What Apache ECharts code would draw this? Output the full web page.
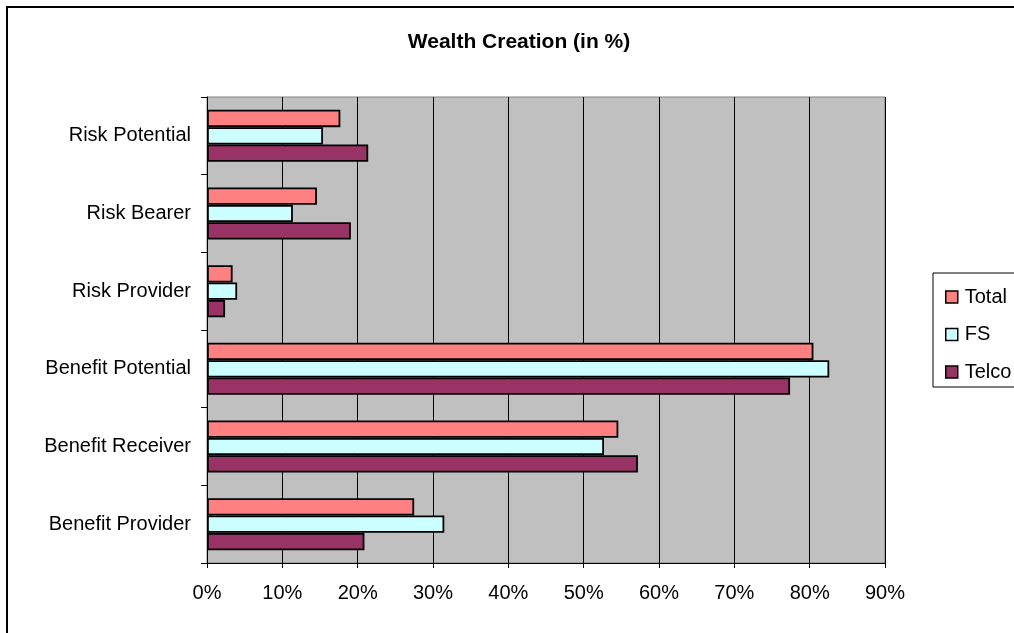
<!DOCTYPE html>
<html><head><meta charset="utf-8">
<script src="https://cdn.jsdelivr.net/npm/echarts@6/dist/echarts.min.js"></script>
<style>html,body{margin:0;padding:0;background:#fff}#c{width:1014px;height:633px}</style>
</head><body><div id="c"></div>
<script>
const categories = ["Benefit Provider","Benefit Receiver","Benefit Potential","Risk Provider","Risk Bearer","Risk Potential"];
const totalValues = [27.5, 54.6, 80.5, 3.4, 14.6, 17.7];
const fsValues = [31.5, 52.7, 82.6, 4.0, 11.4, 15.4];
const telcoValues = [20.9, 57.2, 77.4, 2.4, 19.1, 21.4];
const seriesNames = ["Total","FS","Telco"];
const colors = {"Total":"#FF8080","FS":"#CCFFFF","Telco":"#993366"};
const font = "Liberation Sans, Arial, sans-serif";

const chart = echarts.init(document.getElementById('c'));
const mk = (name, data) => ({
  name, type:'bar', data, barGap:'0%', barCategoryGap:'33%',
  itemStyle:{color:colors[name], borderColor:'#000', borderWidth:1.8},
  emphasis:{disabled:true}, animation:false
});
chart.setOption({
  animation:false,
  title:{text:'Wealth Creation (in %)', left:514, top:27, textAlign:'center',
    textStyle:{fontFamily:font, fontWeight:'bold', fontSize:21, color:'#000'}},
  graphic:[{type:'rect', shape:{x:7,y:7,width:1030,height:640},
    style:{fill:'none', stroke:'#000', lineWidth:2}, silent:true, z:-1},
    {type:'rect', shape:{x:933,y:273,width:100,height:114},
    style:{fill:'#fff', stroke:'#000', lineWidth:1}, silent:true, z:0}],
  legend:{orient:'vertical', left:940, top:282, itemGap:17.5, itemWidth:12, itemHeight:12,
    icon:'rect', data:seriesNames,
    textStyle:{fontFamily:font, fontSize:20, color:'#000', padding:[0,0,0,2]},
    itemStyle:{borderColor:'#000', borderWidth:1.5}},
  grid:{left:207, top:97, right:129, bottom:70, show:true, backgroundColor:'#C0C0C0', borderColor:'#808080', borderWidth:1},
  xAxis:{type:'value', min:0, max:90, interval:10,
    axisLabel:{formatter:'{value}%', fontFamily:font, fontSize:20, color:'#000', margin:20},
    axisLine:{show:true, lineStyle:{color:'#000', width:1}},
    axisTick:{show:true, length:5, lineStyle:{color:'#000'}},
    splitLine:{show:true, lineStyle:{color:'#000', width:1}}},
  yAxis:{type:'category', data:categories,
    axisLabel:{fontFamily:font, fontSize:20, color:'#000', margin:16},
    axisLine:{show:true, lineStyle:{color:'#000', width:1}},
    axisTick:{show:true, length:6, lineStyle:{color:'#000'}}},
  series:[mk('Total', totalValues), mk('FS', fsValues), mk('Telco', telcoValues)]
});
</script></body></html>
